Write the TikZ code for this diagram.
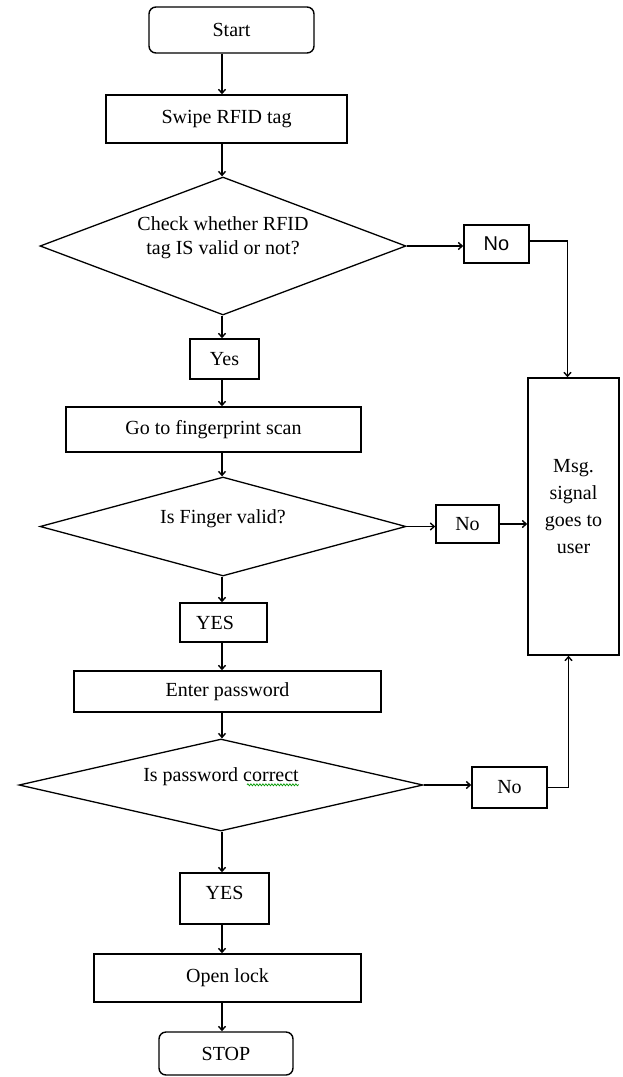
\documentclass[tikz,border=0pt]{standalone}
\usepackage{fontspec}
\setmainfont{Liberation Serif}
\newfontfamily\nofont{Liberation Sans}
\usetikzlibrary{shapes.geometric,arrows.meta,decorations.pathmorphing}

\begin{document}
\begin{tikzpicture}[x=1pt,y=-1pt,
  font=\fontsize{20}{24}\selectfont,
  box/.style={draw,line width=1.4pt,inner sep=0pt},
  terminal/.style={box,rounded corners=7pt},
  decision/.style={draw,line width=1.3pt,shape=diamond,inner sep=0pt},
  caption/.style={align=center,inner sep=0pt},
  flow/.style={line width=1.4pt,-{Straight Barb[length=4pt,width=7pt]}},
  spellmark/.style={green!60!black,line width=0.7pt,decorate,
    decoration={snake,amplitude=1pt,segment length=3pt}}]

\useasboundingbox (0,0) rectangle (622,1077);
\coordinate (axis) at (222,0); % line of the downward arrows

% Main column: boxes and decisions (top to bottom)
\node[terminal,minimum width=165pt,minimum height=46pt] (start) at (231.5,30) {Start};
\node[box,minimum width=241pt,minimum height=48pt] (swipe) at (226.5,119) {Swipe RFID tag};
\node[decision,minimum width=366pt,minimum height=138pt] (chkrfid) at (223,246) {};
\node[caption] (rfidtxt) at ([yshift=8pt]chkrfid.center) {Check whether RFID\\tag IS valid or not?};
\node[box,minimum width=69pt,minimum height=40pt] (yes1) at (224.5,359) {Yes};
\node[box,minimum width=295pt,minimum height=45pt] (scan) at (213.5,429.5) {Go to fingerprint scan};
\node[decision,minimum width=366pt,minimum height=99pt] (chkfinger) at (223,526.5) {};
\node[caption] (fingertxt) at ([yshift=8pt]chkfinger.center) {Is Finger valid?};
\node[box,minimum width=87pt,minimum height=39pt] (yes2) at (223.5,622.5) {YES\hspace*{17pt}};
\node[box,minimum width=307pt,minimum height=41pt] (passwd) at (227.5,691.5) {Enter password};
\node[decision,minimum width=404pt,minimum height=92pt] (chkpass) at (221,785) {};
\node[caption] (pwdtxt) at ([yshift=8pt]chkpass.center) {Is password correct};
\node[box,minimum width=89pt,minimum height=51pt,text depth=11pt] (yes3) at (224.5,898.5) {YES};
\node[box,minimum width=267pt,minimum height=48pt] (lock) at (227.5,978) {Open lock};
\node[terminal,minimum width=134pt,minimum height=43pt] (stop) at (226,1053.5) {STOP};

% Right column: the No boxes and the message box
\node[box,minimum width=65pt,minimum height=38pt] (no1) at (496.5,244) {\nofont No};
\node[box,minimum width=63pt,minimum height=38pt] (no2) at (467.5,524) {No};
\node[box,minimum width=75pt,minimum height=41pt] (no3) at (509.5,787.5) {No};
\node[box,minimum width=91pt,minimum height=277pt] (msg) at (573.5,516.5) {};
\node[caption,font=\fontsize{20}{27}\selectfont] (msgtxt) at ([yshift=10pt]msg.center) {Msg.\\signal\\goes to\\user};

% spell-check mark under "correct"
\draw[spellmark] ([xshift=-52pt,yshift=-3pt]pwdtxt.base east) -- ([yshift=-3pt]pwdtxt.base east);

% Downward arrows
\draw[flow] (start.south -| axis) -- (swipe.north -| axis);
\draw[flow] (swipe.south -| axis) -- (chkrfid.north -| axis);
\draw[flow] (chkrfid.south -| axis) -- (yes1.north -| axis);
\draw[flow] (yes1.south -| axis) -- (scan.north -| axis);
\draw[flow] (scan.south -| axis) -- (chkfinger.north -| axis);
\draw[flow] (chkfinger.south -| axis) -- (yes2.north -| axis);
\draw[flow] (yes2.south -| axis) -- (passwd.north -| axis);
\draw[flow] (passwd.south -| axis) -- (chkpass.north -| axis);
\draw[flow] (chkpass.south -| axis) -- (yes3.north -| axis);
\draw[flow] (yes3.south -| axis) -- (lock.north -| axis);
\draw[flow] (lock.south -| axis) -- (stop.north -| axis);

% No branches into the message box
\draw[flow] (chkrfid.east) -- (chkrfid.east -| no1.west);
\draw[flow] ([yshift=3pt]no1.east) -| ([xshift=-6pt]msg.north);
\draw[flow] (chkfinger.east) -- (chkfinger.east -| no2.west);
\draw[flow] (no2.east) -- (no2.east -| msg.west);
\draw[flow] (chkpass.east) -- (chkpass.east -| no3.west);
\draw[flow] (no3.east) -| ([xshift=-5pt]msg.south);

\end{tikzpicture}
\end{document}
